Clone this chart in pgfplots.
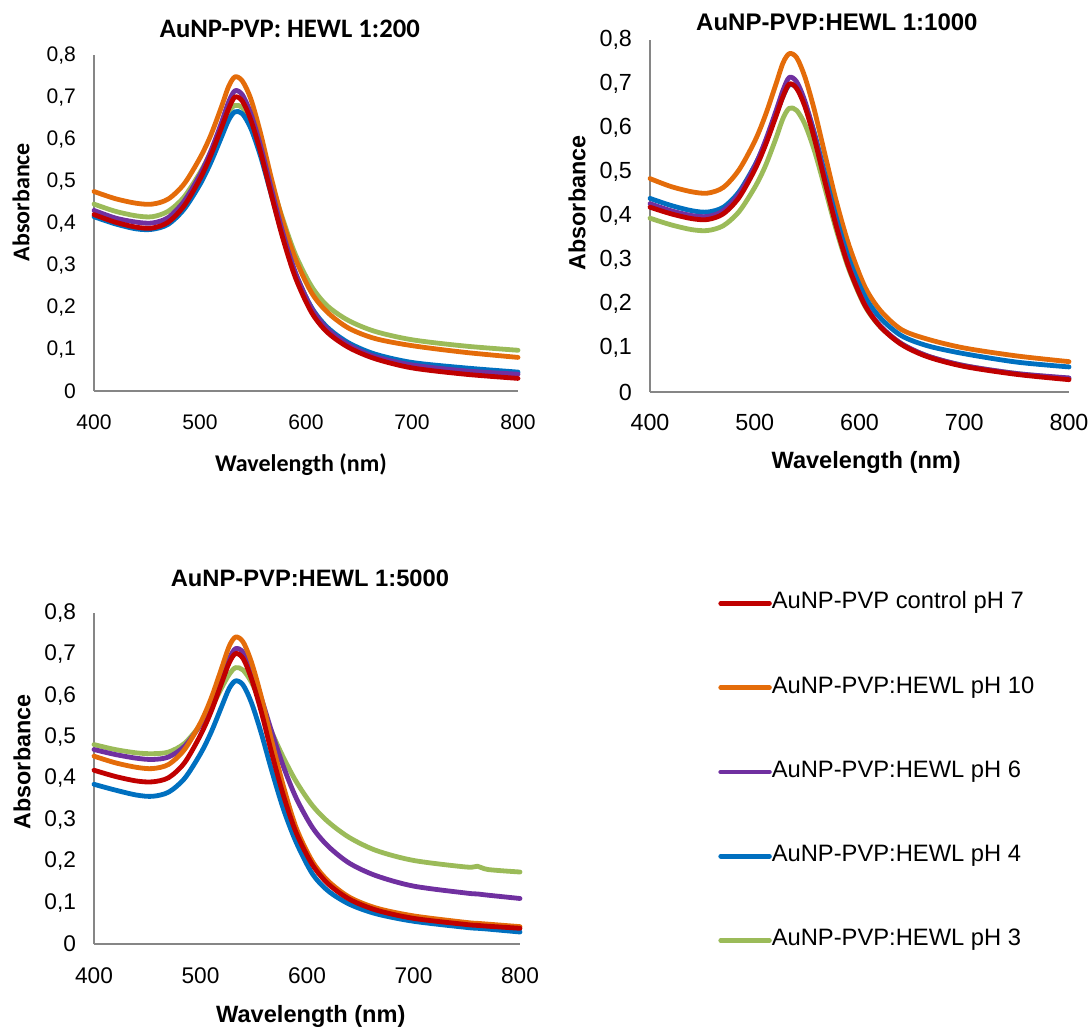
\documentclass[border=0pt]{standalone}
\usepackage{fontspec}
\setmainfont{Liberation Sans}
\newfontfamily\carlito{Carlito}
\usepackage{pgfplots}
\usepackage{pgfplotstable}
\pgfplotsset{compat=1.18}
\definecolor{cRed}{HTML}{C00000}
\definecolor{cOrange}{HTML}{E46C0A}
\definecolor{cPurple}{HTML}{7030A0}
\definecolor{cBlue}{HTML}{0070C0}
\definecolor{cGreen}{HTML}{9BBB59}
\definecolor{axisgray}{HTML}{868686}

% wl red orange purple blue green
\pgfplotstableread{
wl red orange purple blue green
400 .420 .475 .430 .415 .445
420 .402 .458 .412 .398 .428
440 .390 .447 .402 .386 .417
455 .388 .445 .400 .385 .415
470 .402 .457 .413 .397 .428
485 .441 .493 .452 .433 .462
500 .505 .555 .515 .492 .520
510 .560 .608 .570 .543 .568
520 .625 .675 .637 .603 .628
527 .672 .725 .688 .645 .665
533 .700 .748 .715 .665 .680
540 .690 .738 .705 .660 .675
548 .645 .695 .660 .625 .645
557 .570 .615 .585 .560 .585
567 .470 .510 .485 .470 .500
578 .365 .405 .378 .370 .410
590 .270 .315 .282 .280 .325
605 .188 .235 .198 .200 .250
620 .140 .188 .148 .152 .203
640 .104 .150 .110 .115 .168
665 .077 .125 .082 .088 .142
700 .055 .108 .062 .068 .122
750 .040 .092 .048 .055 .107
800 .030 .080 .040 .045 .097
}\tableA

\pgfplotstableread{
wl red orange purple blue green
400 .420 .485 .428 .440 .395
420 .405 .467 .412 .424 .380
440 .394 .455 .401 .412 .369
455 .392 .452 .399 .409 .367
470 .405 .465 .412 .420 .378
485 .442 .505 .450 .455 .410
500 .505 .570 .513 .515 .465
510 .560 .628 .570 .566 .513
520 .625 .698 .637 .628 .575
527 .672 .748 .686 .672 .622
533 .700 .769 .715 .698 .645
540 .690 .760 .705 .692 .640
548 .648 .715 .660 .655 .608
557 .575 .640 .585 .588 .548
567 .478 .540 .485 .495 .463
578 .375 .432 .380 .395 .367
590 .282 .333 .285 .302 .278
605 .198 .240 .200 .218 .196
620 .148 .185 .150 .168 .148
640 .108 .142 .110 .128 .110
665 .080 .120 .082 .105 .082
700 .058 .100 .060 .087 .060
750 .040 .082 .042 .068 .042
800 .028 .069 .032 .057 .031
}\tableB

\pgfplotstableread{
wl red orange purple blue green
400 .420 .454 .470 .386 .482
420 .405 .438 .458 .372 .470
440 .394 .427 .449 .360 .462
455 .392 .424 .446 .357 .460
470 .402 .434 .452 .367 .464
485 .438 .470 .478 .400 .485
500 .505 .535 .530 .460 .530
510 .562 .594 .578 .512 .570
520 .632 .668 .640 .575 .620
527 .680 .720 .690 .618 .652
533 .702 .742 .714 .636 .668
540 .690 .730 .705 .626 .662
548 .640 .680 .662 .582 .632
557 .562 .598 .595 .510 .580
567 .460 .490 .512 .418 .512
578 .358 .380 .428 .325 .450
590 .268 .280 .352 .245 .392
605 .192 .200 .282 .170 .335
620 .145 .152 .236 .128 .295
640 .108 .113 .195 .096 .257
665 .082 .087 .165 .073 .226
700 .062 .068 .140 .055 .202
750 .047 .052 .123 .040 .186
760 .045 .050 .121 .038 .188
770 .043 .048 .118 .036 .180
800 .038 .042 .110 .029 .174
}\tableC

\pgfplotsset{
  spec/.style={
    scale only axis,
    xmin=400, xmax=800, ymin=0, ymax=0.8,
    xtick={400,500,600,700,800},
    ytick={0,0.1,0.2,0.3,0.4,0.5,0.6,0.7,0.8},
    axis x line*=bottom, axis y line*=left,
    axis line style={draw=axisgray, line width=1pt, -},
    major tick length=0pt,
    /pgf/number format/use comma,
    /pgf/number format/fixed,
    /pgf/number format/assume math mode=true,
    xticklabel style={yshift=-14pt},
    yticklabel style={xshift=-10pt},
    clip=false,
    every axis plot/.append style={line width=3.6pt, line cap=round, line join=round, smooth},
    legend image code/.code={\draw[#1] (2pt,0pt) -- (38.5pt,0pt);},
  },
}

\begin{document}
\begin{tikzpicture}
\path[use as bounding box] (0pt,0pt) rectangle (818.25pt,769.5pt);

% Panel 1
\begin{axis}[spec,
  at={(70.5pt,476.25pt)}, anchor=south west,
  width=318pt, height=252pt,
  tick label style={font=\fontsize{15.8}{16}\selectfont},
  title={AuNP-PVP: HEWL 1:200},
  title style={at={(axis description cs:0.462,1.053)}, anchor=center, font=\carlito\bfseries\fontsize{20}{20}\selectfont},
  xlabel={Wavelength (nm)},
  xlabel style={at={(axis description cs:0.488,-0.220)}, anchor=center, font=\carlito\bfseries\fontsize{18}{18}\selectfont},
  ylabel={Absorbance},
  ylabel style={at={(axis description cs:-0.172,0.5625)}, anchor=center, font=\carlito\bfseries\fontsize{18}{18}\selectfont},
]
\addplot[cGreen] table[x=wl,y=green] {\tableA};
\addplot[cOrange] table[x=wl,y=orange] {\tableA};
\addplot[cBlue] table[x=wl,y=blue] {\tableA};
\addplot[cPurple] table[x=wl,y=purple] {\tableA};
\addplot[cRed] table[x=wl,y=red] {\tableA};
\end{axis}

% Panel 2
\begin{axis}[spec,
  at={(487.5pt,475.5pt)}, anchor=south west,
  width=314.25pt, height=264pt,
  tick label style={font=\fontsize{17.5}{18}\selectfont},
  xticklabel style={yshift=1pt},
  title={AuNP-PVP:HEWL 1:1000},
  title style={at={(axis description cs:0.446,1.028)}, anchor=center, font=\bfseries\fontsize{18}{18}\selectfont},
  xlabel={Wavelength (nm)},
  xlabel style={at={(axis description cs:0.516,-0.199)}, anchor=center, font=\bfseries\fontsize{17.7}{18}\selectfont},
  ylabel={Absorbance},
  ylabel style={at={(axis description cs:-0.174,0.537)}, anchor=center, font=\bfseries\fontsize{17.5}{18}\selectfont},
]
\addplot[cGreen] table[x=wl,y=green] {\tableB};
\addplot[cOrange] table[x=wl,y=orange] {\tableB};
\addplot[cBlue] table[x=wl,y=blue] {\tableB};
\addplot[cPurple] table[x=wl,y=purple] {\tableB};
\addplot[cRed] table[x=wl,y=red] {\tableB};
\end{axis}

% Panel 3
\begin{axis}[spec,
  at={(70.5pt,61.5pt)}, anchor=south west,
  width=319.5pt, height=248.25pt,
  tick label style={font=\fontsize{17}{18}\selectfont},
  title={AuNP-PVP:HEWL 1:5000},
  title style={at={(axis description cs:0.507,1.082)}, anchor=center, font=\bfseries\fontsize{17.8}{18}\selectfont},
  xlabel={Wavelength (nm)},
  xlabel style={at={(axis description cs:0.509,-0.218)}, anchor=center, font=\bfseries\fontsize{17.7}{18}\selectfont},
  ylabel={Absorbance},
  ylabel style={at={(axis description cs:-0.169,0.55)}, anchor=center, font=\bfseries\fontsize{17.5}{18}\selectfont},
  legend style={at={(axis description cs:1.465,1.062)}, anchor=north west, draw=none, fill=none, inner sep=0pt,
    font=\fontsize{17.8}{18}\selectfont, row sep=47.2pt,
    nodes={inner sep=0pt, text height=12pt, text depth=4pt},
    /tikz/every even column/.append style={column sep=3pt}},
  legend cell align=left,
  reverse legend,
]
\addplot[cGreen] table[x=wl,y=green] {\tableC};
\addlegendentry{AuNP-PVP:HEWL pH 3}
\addplot[cBlue] table[x=wl,y=blue] {\tableC};
\addlegendentry{AuNP-PVP:HEWL pH 4}
\addplot[cPurple] table[x=wl,y=purple] {\tableC};
\addlegendentry{AuNP-PVP:HEWL pH 6}
\addplot[cOrange] table[x=wl,y=orange] {\tableC};
\addlegendentry{AuNP-PVP:HEWL pH 10}
\addplot[cRed] table[x=wl,y=red] {\tableC};
\addlegendentry{AuNP-PVP control pH 7}
\end{axis}
\end{tikzpicture}
\end{document}
